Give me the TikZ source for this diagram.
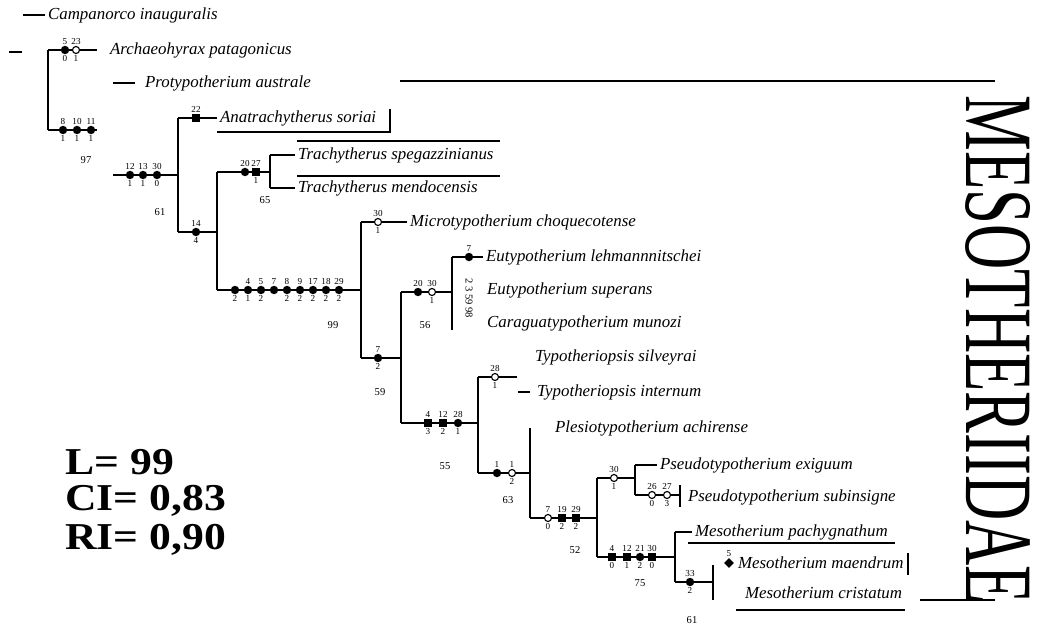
\documentclass[tikz,border=0pt]{standalone}
\usepackage{fontspec}
\setmainfont{Liberation Serif}
\usetikzlibrary{shapes.geometric}

\begin{document}
\begin{tikzpicture}[x=0.025cm, y=-0.025cm,
  br/.style={line width=1.3pt},
  bar/.style={line width=1pt},
  syn/.style={circle, fill, inner sep=0pt, minimum size=6pt},
  sqr/.style={rectangle, fill, inner sep=0pt, minimum size=5.5pt},
  hom/.style={circle, draw, fill=white, line width=0.8pt, inner sep=0pt, minimum size=5pt},
  dia/.style={diamond, fill, inner sep=0pt, minimum size=7pt},
  ch/.style={font=\fontsize{6.5}{7}\selectfont, inner sep=0.8pt},
  bsup/.style={font=\fontsize{7.5}{8}\selectfont, inner sep=0pt},
  taxon/.style={font=\fontsize{12}{14}\selectfont\itshape, anchor=west, inner xsep=2pt, inner ysep=0pt},
  stat/.style={font=\fontsize{27}{30}\selectfont\bfseries, anchor=west, inner sep=0pt}]
\useasboundingbox (0,0) rectangle (1040,630);

% taxa
\node[taxon] (t1) at (45,15) {Campanorco inauguralis};
\node[taxon] (t2) at (107,50) {Archaeohyrax patagonicus};
\node[taxon] (t3) at (142,83) {Protypotherium australe};
\node[taxon] (t4) at (217,118) {Anatrachytherus soriai};
\node[taxon] (t5) at (295,155) {Trachytherus spegazzinianus};
\node[taxon] (t6) at (295,188) {Trachytherus mendocensis};
\node[taxon] (t7) at (407,222) {Microtypotherium choquecotense};
\node[taxon] (t8) at (483,257) {Eutypotherium lehmannnitschei};
\node[taxon] (t9) at (484,290) {Eutypotherium superans};
\node[taxon] (t10) at (484,323) {Caraguatypotherium munozi};
\node[taxon] (t11) at (532,357) {Typotheriopsis silveyrai};
\node[taxon] (t12) at (534,392) {Typotheriopsis internum};
\node[taxon] (t13) at (552,428) {Plesiotypotherium achirense};
\node[taxon] (t14) at (657,465) {Pseudotypotherium exiguum};
\node[taxon] (t15) at (685,497) {Pseudotypotherium subinsigne};
\node[taxon] (t16) at (692,532) {Mesotherium pachygnathum};
\node[taxon] (t17) at (735,563) {Mesotherium maendrum};
\node[taxon] (t18) at (742,593) {Mesotherium cristatum};

% tree points
\coordinate (r0) at (9,52);   \coordinate (r1) at (22,52);
\coordinate (c0) at (23,15);  \coordinate (p0) at (113,83);
\coordinate (A1) at (48,50);  \coordinate (A2) at (48,130); \coordinate (a3) at (97,130);
\coordinate (b0) at (113,175);
\coordinate (B1) at (178,118); \coordinate (B2) at (178,232);
\coordinate (C1) at (217,172); \coordinate (C2) at (217,290);
\coordinate (D1) at (270,155); \coordinate (D2) at (270,188);
\coordinate (E1) at (361,222); \coordinate (E2) at (361,358);
\coordinate (F1) at (401,292); \coordinate (F2) at (401,423);
\coordinate (H1) at (452,257); \coordinate (H2) at (452,330);
\coordinate (G1) at (478,377); \coordinate (G2) at (478,473);
\coordinate (g1) at (517,377); \coordinate (g0) at (518,392);
\coordinate (I1) at (530,428); \coordinate (I2) at (530,518);
\coordinate (J1) at (597,478); \coordinate (J2) at (597,557);
\coordinate (K1) at (635,465); \coordinate (K2) at (635,495); \coordinate (k3) at (680,495);
\coordinate (L1) at (675,532); \coordinate (L2) at (675,582); \coordinate (l3) at (713,582);

% branches
\draw[br] (r0) -- (r1);
\draw[br] (c0) -- (t1.west);
\draw[br] (A1) -- (A2);
\draw[br, shorten >=7pt] (A1) -- (t2.west);
\draw[br] (A2) -- (a3);
\draw[br, shorten >=5pt] (p0) -- (t3.west);
\draw[br] (b0) -- (b0 -| B1);
\draw[br] (B1) -- (B2);
\draw[br] (B1) -- (t4.west);
\draw[br] (B2) -- (B2 -| C1);
\draw[br] (C1) -- (C2);
\draw[br] (C1) -- (C1 -| D1);
\draw[br] (D1) -- (D2);
\draw[br] (D1) -- (t5.west);
\draw[br] (D2) -- (t6.west);
\draw[br] (C2) -- (C2 -| E1);
\draw[br] (E1) -- (E2);
\draw[br] (E1) -- (t7.west);
\draw[br] (E2) -- (E2 -| F1);
\draw[br] (F1) -- (F2);
\draw[br] (F1) -- (F1 -| H1);
\draw[br] (H1) -- (H2);
\draw[br] (H1) -- (t8.west);
\draw[br] (F2) -- (F2 -| G1);
\draw[br] (G1) -- (G2);
\draw[br] (G1) -- (g1);
\draw[br, shorten >=3pt] (g0) -- (t12.west);
\draw[br] (G2) -- (G2 -| I1);
\draw[br] (I1) -- (I2);
\draw[br] (I2) -- (I2 -| J1);
\draw[br] (J1) -- (J2);
\draw[br] (J1) -- (J1 -| K1);
\draw[br] (K1) -- (K2);
\draw[br] (K1) -- (t14.west);
\draw[br] (K2) -- (k3);
\draw[br] (J2) -- (J2 -| L1);
\draw[br] (L1) -- (L2);
\draw[br] (L1) -- (t16.west);
\draw[br] (L2) -- (l3);

% boxes and bars round the names
\draw[bar] (217,132) -- (390,132) -- (390,109);
\draw[bar] (297,141) -- (500,141);
\draw[bar] (297,176) -- (500,176);
\draw[bar] (680,485) -- (680,507);
\draw[bar] (688,543) -- (895,543);
\draw[bar] (713,565) -- (713,600);
\draw[bar] (908,553) -- (908,575);
\draw[bar] (736,610) -- (905,610);
\draw[bar] (400,81) -- (995,81);
\draw[bar] (920,600) -- (995,600);

% character changes
\node[syn, label={[ch]above:5}, label={[ch]below:0}] (m1) at (65,50) {};
\node[hom, label={[ch]above:23}, label={[ch]below:1}] (m2) at (76,50) {};
\node[syn, label={[ch]above:8}, label={[ch]below:1}] (m3) at (63,130) {};
\node[syn, label={[ch]above:10}, label={[ch]below:1}] (m4) at (77,130) {};
\node[syn, label={[ch]above:11}, label={[ch]below:1}] (m5) at (91,130) {};
\node[syn, label={[ch]above:12}, label={[ch]below:1}] (m6) at (130,175) {};
\node[syn, label={[ch]above:13}, label={[ch]below:1}] (m7) at (143,175) {};
\node[syn, label={[ch]above:30}, label={[ch]below:0}] (m8) at (157,175) {};
\node[sqr, label={[ch]above:22}] (m9) at (196,118) {};
\node[syn, label={[ch]above:14}, label={[ch]below:4}] (m10) at (196,232) {};
\node[syn, label={[ch]above:20}] (m11) at (245,172) {};
\node[sqr, label={[ch]above:27}, label={[ch]below:1}] (m12) at (256,172) {};
\node[syn, label={[ch]below:2}] (m13) at (235,290) {};
\node[syn, label={[ch]above:4}, label={[ch]below:1}] (m14) at (248,290) {};
\node[syn, label={[ch]above:5}, label={[ch]below:2}] (m15) at (261,290) {};
\node[syn, label={[ch]above:7}] (m16) at (274,290) {};
\node[syn, label={[ch]above:8}, label={[ch]below:2}] (m17) at (287,290) {};
\node[syn, label={[ch]above:9}, label={[ch]below:2}] (m18) at (300,290) {};
\node[syn, label={[ch]above:17}, label={[ch]below:2}] (m19) at (313,290) {};
\node[syn, label={[ch]above:18}, label={[ch]below:2}] (m20) at (326,290) {};
\node[syn, label={[ch]above:29}, label={[ch]below:2}] (m21) at (339,290) {};
\node[hom, label={[ch]above:30}, label={[ch]below:1}] (m22) at (378,222) {};
\node[syn, label={[ch]above:7}, label={[ch]below:2}] (m23) at (378,358) {};
\node[syn, label={[ch]above:20}] (m24) at (418,292) {};
\node[hom, label={[ch]above:30}, label={[ch]below:1}] (m25) at (432,292) {};
\node[syn, label={[ch]above:7}] (m26) at (469,257) {};
\node[sqr, label={[ch]above:4}, label={[ch]below:3}] (m27) at (428,423) {};
\node[sqr, label={[ch]above:12}, label={[ch]below:2}] (m28) at (443,423) {};
\node[syn, label={[ch]above:28}, label={[ch]below:1}] (m29) at (458,423) {};
\node[hom, label={[ch]above:28}, label={[ch]below:1}] (m30) at (495,377) {};
\node[syn, label={[ch]above:1}] (m31) at (497,473) {};
\node[hom, label={[ch]above:1}, label={[ch]below:2}] (m32) at (512,473) {};
\node[hom, label={[ch]above:7}, label={[ch]below:0}] (m33) at (548,518) {};
\node[sqr, label={[ch]above:19}, label={[ch]below:2}] (m34) at (562,518) {};
\node[sqr, label={[ch]above:29}, label={[ch]below:2}] (m35) at (576,518) {};
\node[hom, label={[ch]above:30}, label={[ch]below:1}] (m36) at (614,478) {};
\node[hom, label={[ch]above:26}, label={[ch]below:0}] (m37) at (652,495) {};
\node[hom, label={[ch]above:27}, label={[ch]below:3}] (m38) at (667,495) {};
\node[sqr, label={[ch]above:4}, label={[ch]below:0}] (m39) at (612,557) {};
\node[sqr, label={[ch]above:12}, label={[ch]below:1}] (m40) at (627,557) {};
\node[syn, label={[ch]above:21}, label={[ch]below:2}] (m41) at (640,557) {};
\node[sqr, label={[ch]above:30}, label={[ch]below:0}] (m42) at (652,557) {};
\node[syn, label={[ch]above:33}, label={[ch]below:2}] (m43) at (690,582) {};
\node[dia, label={[ch]above:5}] (m44) at (729,563) {};

% support values
\node[bsup] (s1) at (86,160) {97};
\node[bsup] (s2) at (160,212) {61};
\node[bsup] (s3) at (265,200) {65};
\node[bsup] (s4) at (333,325) {99};
\node[bsup] (s5) at (380,392) {59};
\node[bsup] (s6) at (425,325) {56};
\node[bsup, rotate=-90] (s7) at (469,298) {2 3 59 98};
\node[bsup] (s8) at (445,466) {55};
\node[bsup] (s9) at (508,500) {63};
\node[bsup] (s10) at (575,550) {52};
\node[bsup] (s11) at (640,583) {75};
\node[bsup] (s12) at (692,620) {61};

% tree statistics
\node[stat] (lval) at (65,462) {\scalebox{1.15}[1]{L= 99}};
\node[stat] (cival) at (65,501) {\scalebox{1.15}[1]{CI= 0,83}};
\node[stat] (rival) at (65,540) {\scalebox{1.15}[1]{RI= 0,90}};

% family name
\node[rotate=-90, inner sep=0pt] (fam) at (998,350) {\resizebox{12.7cm}{1.6cm}{MESOTHERIIDAE}};
\end{tikzpicture}
\end{document}
